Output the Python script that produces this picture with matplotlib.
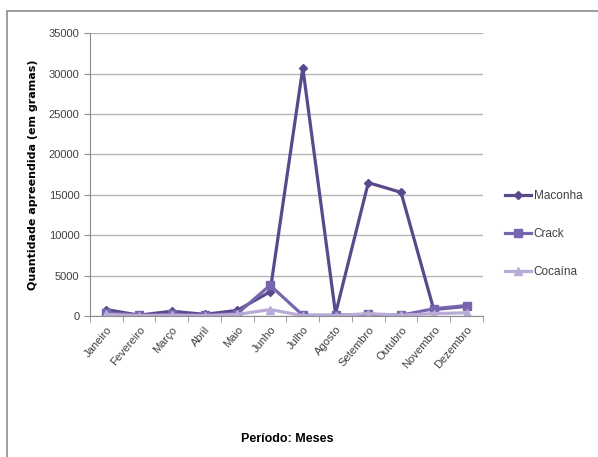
import matplotlib
matplotlib.use("Agg")
import matplotlib.pyplot as plt
import numpy as np
from matplotlib.patches import Rectangle

plt.rcParams['font.family'] = ['Liberation Sans Narrow', 'Liberation Sans', 'DejaVu Sans']

# monthly seizures (grams)
meses = ["Janeiro", "Fevereiro", "Março", "Abril", "Maio", "Junho",
         "Julho", "Agosto", "Setembro", "Outubro", "Novembro", "Dezembro"]
maconha = [800, 100, 600, 200, 700, 3000, 30700, 300, 16500, 15300, 800, 1200]
crack = [400, 100, 200, 100, 300, 3800, 100, 100, 200, 100, 900, 1300]
cocaina = [200, 50, 100, 50, 200, 800, 50, 50, 300, 100, 300, 400]
yticks = [0, 5000, 10000, 15000, 20000, 25000, 30000, 35000]

fig = plt.figure(figsize=(5.98, 4.57), dpi=100)
ax = fig.add_axes([0.1505, 0.3085, 0.657, 0.619])

# chart frame
fig.patches.append(Rectangle((0.012, -0.01), 0.99, 0.986, transform=fig.transFigure,
                             fill=False, edgecolor="#8c8c8c", linewidth=1.2))

x = np.arange(len(meses))
ax.plot(x, maconha, color="#5a4a8c", linewidth=2.3, marker="D", markersize=4.5,
        label="Maconha")
ax.plot(x, crack, color="#7766ae", linewidth=2.3, marker="s", markersize=5.5,
        label="Crack")
ax.plot(x, cocaina, color="#b8acd6", linewidth=2.3, marker="^", markersize=5.5,
        label="Cocaína")

ax.set_xlim(-0.5, len(meses) - 0.5)
ax.set_ylim(0, 35000)
ax.set_yticks(yticks)
ax.set_yticklabels([str(v) for v in yticks], fontsize=8, color="#404040")
ax.yaxis.grid(True, color="#b5b5b5", linewidth=1)
ax.set_axisbelow(True)

ax.set_xticks(x)
ax.set_xticklabels(meses, rotation=50, ha="right", rotation_mode="anchor",
                   fontsize=8, color="#404040")
ax.set_xticks(np.arange(-0.5, len(meses)), minor=True)
ax.tick_params(axis="x", which="major", length=0, pad=6)
ax.tick_params(axis="x", which="minor", length=4, color="#8c8c8c")
ax.tick_params(axis="y", length=4, color="#8c8c8c")

for side in ["top", "right"]:
    ax.spines[side].set_visible(False)
for side in ["left", "bottom"]:
    ax.spines[side].set_color("#8c8c8c")

ax.set_ylabel("Quantidade apreendida (em gramas)", fontsize=8, fontweight="bold",
              family=["DejaVu Sans"], labelpad=8)
fig.text(0.48, 0.04, "Período: Meses", fontsize=9, fontweight="bold",
         ha="center", va="center")

leg = ax.legend(loc="center left", bbox_to_anchor=(1.03, 0.29), frameon=False,
                fontsize=8.5, handlelength=2.2, labelspacing=2.2, handletextpad=0.2)
for t in leg.get_texts():
    t.set_color("#404040")

fig.savefig("out.png", dpi=100)
